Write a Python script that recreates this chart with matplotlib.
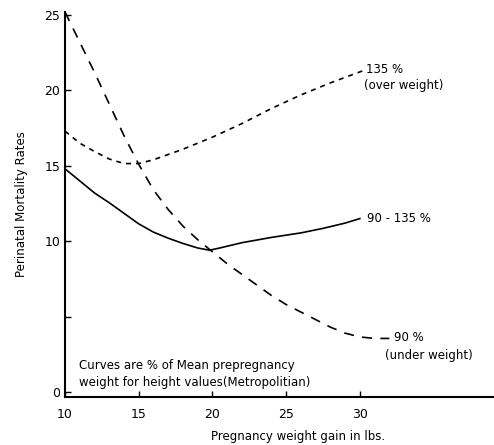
import matplotlib
matplotlib.use("Agg")
import matplotlib.pyplot as plt

# Values
gain_mid = [10, 11, 12, 13, 14, 15, 16, 17, 18, 19, 19.8, 20.5, 22, 24, 26, 27.5, 29, 30]
rate_mid = [14.8, 14.0, 13.2, 12.55, 11.85, 11.15, 10.6, 10.2, 9.85, 9.55, 9.4, 9.55, 9.9, 10.25, 10.55, 10.85, 11.2, 11.5]

gain_over = [10, 11, 12, 13, 14, 15, 16, 17, 18, 19, 20, 22, 24, 26, 28, 30.2]
rate_over = [17.3, 16.5, 15.95, 15.45, 15.15, 15.15, 15.4, 15.75, 16.1, 16.5, 16.9, 17.8, 18.8, 19.7, 20.5, 21.3]

gain_under = [10, 11, 12, 13, 14, 15, 16, 17, 18, 19, 20, 21, 22, 23, 24, 25, 26, 27, 28, 29, 30, 31, 32]
rate_under = [25.2, 23.2, 21.2, 19.1, 17.0, 15.1, 13.4, 12.1, 11.0, 10.1, 9.3, 8.5, 7.8, 7.1, 6.4, 5.8, 5.3, 4.8, 4.3, 3.9, 3.65, 3.55, 3.55]

x_ticks = [10, 15, 20, 25, 30]
y_ticks = [0, 5, 10, 15, 20, 25]
y_tick_labels = ['0', '', '10', '15', '20', '25']

fig = plt.figure(figsize=(4.94, 4.45), dpi=100)
ax = fig.add_axes([0.1316, 0.108, 0.8684, 0.865])

ax.plot(gain_mid, rate_mid, color='black', linewidth=1.2)
ax.plot(gain_over, rate_over, color='black', linewidth=1.2, dashes=(3, 3))
ax.plot(gain_under, rate_under, color='black', linewidth=1.2, dashes=(6, 5))

ax.set_xlim(10, 39.1)
ax.set_ylim(-0.33, 25.2)
ax.set_xticks(x_ticks)
ax.set_yticks(y_ticks)
ax.set_yticklabels(y_tick_labels)
ax.tick_params(direction='in', length=4, width=1, labelsize=9)
ax.tick_params(axis='x', pad=8)

ax.spines['top'].set_visible(False)
ax.spines['right'].set_visible(False)
ax.spines['left'].set_linewidth(1.5)
ax.spines['bottom'].set_linewidth(1.5)

# curve labels
ax.text(30.4, 21.4, '135 %', fontsize=8.5, va='center')
ax.text(30.3, 20.3, '(over weight)', fontsize=8.5, va='center')
ax.text(30.5, 11.5, '90 - 135 %', fontsize=8.5, va='center')
ax.text(32.3, 3.6, '90 %', fontsize=8.5, va='center')
ax.text(31.7, 2.4, '(under weight)', fontsize=8.5, va='center')

ax.text(10.95, 1.75, 'Curves are % of Mean prepregnancy', fontsize=8.5, va='center')
ax.text(10.95, 0.65, 'weight for height values(Metropolitian)', fontsize=8.5, va='center')

ax.set_xlabel('Pregnancy weight gain in lbs.', fontsize=8.5)
ax.xaxis.set_label_coords((298 - 65) / 429, -0.085)
ax.set_ylabel('Perinatal Mortality Rates', fontsize=8.5, labelpad=12)

plt.savefig('out.png', dpi=100)
